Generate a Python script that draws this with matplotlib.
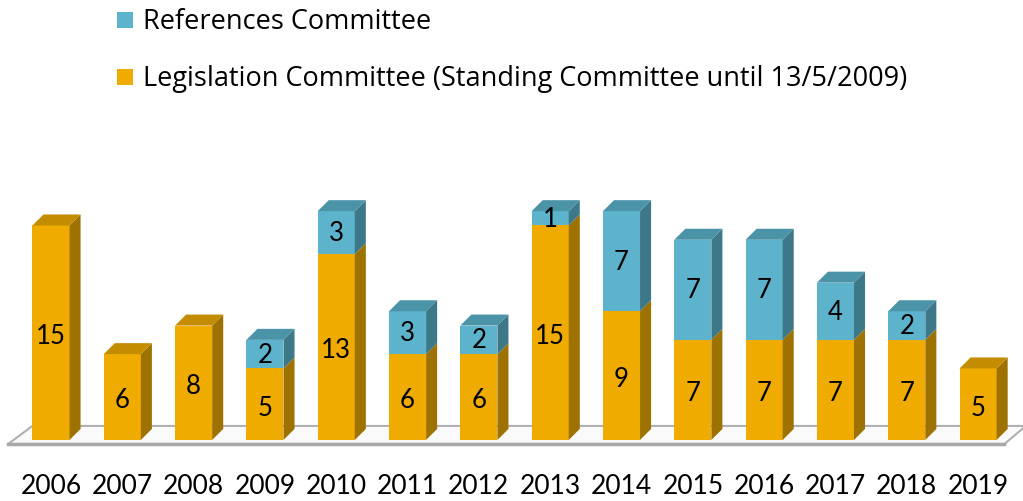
import matplotlib
matplotlib.use("Agg")
import matplotlib.pyplot as plt
from matplotlib.patches import Polygon, Rectangle

plt.rcParams['font.family'] = ['Lato', 'DejaVu Sans']

years = ['2006', '2007', '2008', '2009', '2010', '2011', '2012',
         '2013', '2014', '2015', '2016', '2017', '2018', '2019']
legislation = [15, 6, 8, 5, 13, 6, 6, 15, 9, 7, 7, 7, 7, 5]
references = [0, 0, 0, 2, 3, 3, 2, 1, 7, 7, 7, 4, 2, 0]

leg_label = 'Legislation Committee (Standing Committee until 13/5/2009)'
ref_label = 'References Committee'

# colours: front, side, top
orange = ('#F0AB00', '#9E7200', '#C48C00')
blue = ('#5DB3CC', '#3D7888', '#4B93A7')

width = 0.52
dx, dy = 0.155, 0.77   # fake depth of the 3d bars

fig = plt.figure(figsize=(10.23, 5.02), dpi=100)
ax = fig.add_axes([0, 0, 1, 1])
ax.set_xlim(-0.715, 13.63)
ax.set_ylim(-4.27, 30.84)
ax.axis('off')

# floor
n = len(years)
x0, x1 = -0.6, n - 1 + 0.37
fy, by = -0.28, 0.98
floor = Polygon([(x0, fy), (x1, fy), (x1 + 0.3, by), (x0 + 0.34, by)],
                closed=True, facecolor='#FAFAFA', edgecolor='#B0B0B0', lw=1.5, zorder=1)
ax.add_patch(floor)
ax.plot([x0, x1], [fy, fy], color='#A8A8A8', lw=2.5, zorder=1)

xs = list(range(n))
ax.bar(xs, legislation, width=width, color=orange[0], zorder=3)
ax.bar(xs, references, width=width, bottom=legislation, color=blue[0], zorder=3)


def box_faces(x, bottom, height, cols, top=True):
    r = x + width / 2
    l = x - width / 2
    t = bottom + height
    side = Polygon([(r, bottom), (r + dx, bottom + dy), (r + dx, t + dy), (r, t)],
                   closed=True, facecolor=cols[1], edgecolor='none', zorder=3)
    ax.add_patch(side)
    if top:
        tp = Polygon([(l, t), (l + dx, t + dy), (r + dx, t + dy), (r, t)],
                     closed=True, facecolor=cols[2], edgecolor='none', zorder=3)
        ax.add_patch(tp)


for i in xs:
    lg, rf = legislation[i], references[i]
    box_faces(i, 0, lg, orange, top=(rf == 0))
    ax.text(i, lg / 2 - 0.2, str(lg), ha='center', va='center', fontsize=18.5, zorder=5)
    if rf > 0:
        box_faces(i, lg, rf, blue)
        ax.text(i, lg + rf / 2, str(rf), ha='center', va='center', fontsize=18.5, zorder=5)
    ax.text(i, -3.2, years[i], ha='center', va='center', fontsize=19)

# legend
sq_w, sq_h = 16 / 71.3, 16 / 14.3
lx = (117 - 51) / 71.3
for yy, col, lab in [(29.4, blue[0], ref_label), (25.4, orange[0], leg_label)]:
    ax.add_patch(Rectangle((lx, yy - sq_h / 2), sq_w, sq_h, facecolor=col, edgecolor='none'))
    ax.text(lx + 26 / 71.3, yy - 0.1, lab, ha='left', va='center', fontsize=19.5,
            family=['Open Sans', 'DejaVu Sans'])

fig.savefig('out.png', dpi=100)
